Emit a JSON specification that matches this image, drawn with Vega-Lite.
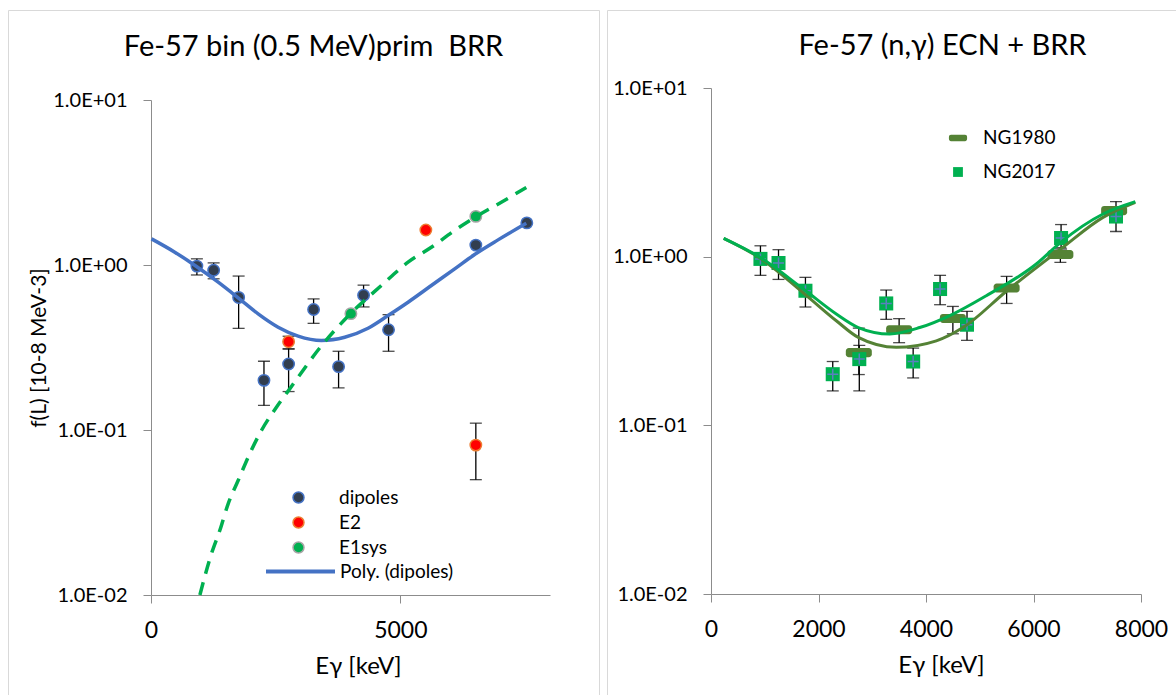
{
  "$schema": "https://vega.github.io/schema/vega-lite/v6.json",
  "background": "white",
  "padding": {"left": 7, "top": 9, "right": 0, "bottom": 0},
  "config": {
    "font": "Lato",
    "view": {"stroke": "#D9D9D9", "strokeWidth": 1},
    "axis": {"grid": false, "domainColor": "#8C8C8C", "tickColor": "#8C8C8C", "labelColor": "#000000", "titleColor": "#000000", "labelFont": "Lato", "titleFont": "Lato", "titleFontWeight": "normal", "tickSize": 8, "labelPadding": 16},
    "title": {"font": "Lato", "fontWeight": "normal", "color": "#000000", "fontSize": 29},
    "legend": {"labelFont": "Lato", "labelColor": "#000000", "labelFontSize": 19, "padding": 0},
    "concat": {"spacing": 6}
  },
  "datasets": {
    "L": [
      {"E": 920, "f": 0.985, "lo": 0.87, "hi": 1.09, "series": "dipoles"},
      {"E": 1256, "f": 0.93, "lo": 0.825, "hi": 1.03, "series": "dipoles"},
      {"E": 1757, "f": 0.636, "lo": 0.413, "hi": 0.857, "series": "dipoles"},
      {"E": 2265, "f": 0.2, "lo": 0.141, "hi": 0.261, "series": "dipoles"},
      {"E": 2759, "f": 0.251, "lo": 0.171, "hi": 0.31, "series": "dipoles"},
      {"E": 3260, "f": 0.537, "lo": 0.443, "hi": 0.623, "series": "dipoles"},
      {"E": 3761, "f": 0.242, "lo": 0.18, "hi": 0.3, "series": "dipoles"},
      {"E": 4262, "f": 0.656, "lo": 0.557, "hi": 0.755, "series": "dipoles"},
      {"E": 4763, "f": 0.405, "lo": 0.3, "hi": 0.5, "series": "dipoles"},
      {"E": 6513, "f": 1.32, "lo": null, "hi": null, "series": "dipoles"},
      {"E": 7535, "f": 1.8, "lo": null, "hi": null, "series": "dipoles"},
      {"E": 2759, "f": 0.343, "lo": 0.31, "hi": 0.37, "series": "E2"},
      {"E": 5511, "f": 1.63, "lo": null, "hi": null, "series": "E2"},
      {"E": 6513, "f": 0.081, "lo": 0.05, "hi": 0.11, "series": "E2"},
      {"E": 4008, "f": 0.507, "lo": null, "hi": null, "series": "E1sys"},
      {"E": 6513, "f": 1.97, "lo": null, "hi": null, "series": "E1sys"}
    ],
    "poly": [
      {"E": 10, "f": 1.44}, {"E": 477, "f": 1.196}, {"E": 912, "f": 0.98}, {"E": 1347, "f": 0.787},
      {"E": 1747, "f": 0.633}, {"E": 2148, "f": 0.506}, {"E": 2549, "f": 0.42}, {"E": 2950, "f": 0.371},
      {"E": 3417, "f": 0.349}, {"E": 3884, "f": 0.365}, {"E": 4352, "f": 0.414}, {"E": 4753, "f": 0.494},
      {"E": 5154, "f": 0.595}, {"E": 5621, "f": 0.751}, {"E": 6089, "f": 0.948}, {"E": 6489, "f": 1.158},
      {"E": 6958, "f": 1.42}, {"E": 7525, "f": 1.79}
    ],
    "e1fit": [
      {"E": 980, "f": 0.01}, {"E": 1212, "f": 0.0178}, {"E": 1379, "f": 0.0246}, {"E": 1547, "f": 0.0357},
      {"E": 1747, "f": 0.0494}, {"E": 1980, "f": 0.0718}, {"E": 2214, "f": 0.0993}, {"E": 2515, "f": 0.1375},
      {"E": 2749, "f": 0.172}, {"E": 3451, "f": 0.333}, {"E": 3998, "f": 0.506}, {"E": 4619, "f": 0.751},
      {"E": 5154, "f": 1.04}, {"E": 5621, "f": 1.28}, {"E": 6089, "f": 1.62}, {"E": 6503, "f": 1.95},
      {"E": 7024, "f": 2.4}, {"E": 7525, "f": 2.95}
    ],
    "R": [
      {"E": 2750, "f": 0.27, "lo": 0.2, "hi": 0.377, "series": "NG1980"},
      {"E": 3500, "f": 0.369, "lo": 0.309, "hi": 0.429, "series": "NG1980"},
      {"E": 4500, "f": 0.43, "lo": 0.349, "hi": 0.507, "series": "NG1980"},
      {"E": 5500, "f": 0.652, "lo": 0.528, "hi": 0.764, "series": "NG1980"},
      {"E": 6500, "f": 1.03, "lo": 0.925, "hi": 1.13, "series": "NG1980"},
      {"E": 7500, "f": 1.875, "lo": null, "hi": null, "series": "NG1980"},
      {"E": 920, "f": 0.97, "lo": 0.775, "hi": 1.16, "series": "NG2017"},
      {"E": 1256, "f": 0.917, "lo": 0.733, "hi": 1.1, "series": "NG2017"},
      {"E": 1757, "f": 0.628, "lo": 0.503, "hi": 0.754, "series": "NG2017"},
      {"E": 2265, "f": 0.201, "lo": 0.16, "hi": 0.239, "series": "NG2017"},
      {"E": 2759, "f": 0.247, "lo": 0.16, "hi": 0.298, "series": "NG2017"},
      {"E": 3260, "f": 0.528, "lo": 0.425, "hi": 0.634, "series": "NG2017"},
      {"E": 3761, "f": 0.239, "lo": 0.191, "hi": 0.287, "series": "NG2017"},
      {"E": 4262, "f": 0.643, "lo": 0.519, "hi": 0.775, "series": "NG2017"},
      {"E": 4763, "f": 0.395, "lo": 0.319, "hi": 0.474, "series": "NG2017"},
      {"E": 6513, "f": 1.29, "lo": 1.11, "hi": 1.55, "series": "NG2017"},
      {"E": 7535, "f": 1.73, "lo": 1.41, "hi": 2.12, "series": "NG2017"}
    ],
    "fit2017": [
      {"E": 236, "f": 1.285}, {"E": 893, "f": 1.0}, {"E": 1743, "f": 0.634}, {"E": 2331, "f": 0.457},
      {"E": 2740, "f": 0.38}, {"E": 3325, "f": 0.348}, {"E": 3883, "f": 0.38}, {"E": 4502, "f": 0.457},
      {"E": 5122, "f": 0.587}, {"E": 6052, "f": 0.905}, {"E": 6506, "f": 1.216}, {"E": 7293, "f": 1.79},
      {"E": 7894, "f": 2.12}
    ],
    "fit1980": [
      {"E": 236, "f": 1.285}, {"E": 893, "f": 0.99}, {"E": 1743, "f": 0.6}, {"E": 2331, "f": 0.417},
      {"E": 2740, "f": 0.332}, {"E": 3447, "f": 0.29}, {"E": 4192, "f": 0.317}, {"E": 4688, "f": 0.38},
      {"E": 5507, "f": 0.628}, {"E": 6506, "f": 1.11}, {"E": 7293, "f": 1.71}, {"E": 7894, "f": 2.1}
    ]
  },
  "hconcat": [
    {
      "width": 591,
      "height": 685,
      "title": {"text": "Fe-57 bin (0.5 MeV)prim\u00a0 BRR", "anchor": "middle", "frame": "group", "offset": -52, "dx": 10},
      "layer": [
        {
          "data": {"name": "L"},
          "transform": [{"filter": "datum.lo != null"}],
          "mark": {"type": "rule", "color": "#000000", "strokeWidth": 1.3},
          "encoding": {
            "x": {"field": "E", "type": "quantitative", "scale": {"domain": [0, 8000], "range": [143, 542]},
              "axis": {"values": [0, 5000], "format": "d", "labelFlush": false, "labelFontSize": 23, "offset": -100, "title": "Eγ [keV]", "titleFontSize": 24, "titleX": 350, "titleY": 71, "titleBaseline": "middle"}},
            "y": {"field": "lo", "type": "quantitative", "scale": {"type": "log", "domain": [0.01, 10], "range": [585, 90]},
              "axis": {"values": [0.01, 0.1, 1, 10], "labelFontSize": 20, "offset": -143, "title": "f(L) [10-8 MeV-3]", "titleFontSize": 21, "titleX": -112, "titleBaseline": "middle",
                "labelExpr": "datum.value >= 5 ? '1.0E+01' : datum.value >= 0.5 ? '1.0E+00' : datum.value >= 0.05 ? '1.0E-01' : '1.0E-02'"}},
            "y2": {"field": "hi"}
          }
        },
        {
          "data": {"name": "L"},
          "transform": [{"filter": "datum.lo != null"}],
          "mark": {"type": "tick", "orient": "horizontal", "color": "#000000", "size": 12, "thickness": 1.3},
          "encoding": {
            "x": {"field": "E", "type": "quantitative", "scale": {"domain": [0, 8000], "range": [143, 542]}},
            "y": {"field": "lo", "type": "quantitative", "scale": {"type": "log", "domain": [0.01, 10], "range": [585, 90]}}
          }
        },
        {
          "data": {"name": "L"},
          "transform": [{"filter": "datum.lo != null"}],
          "mark": {"type": "tick", "orient": "horizontal", "color": "#000000", "size": 12, "thickness": 1.3},
          "encoding": {
            "x": {"field": "E", "type": "quantitative", "scale": {"domain": [0, 8000], "range": [143, 542]}},
            "y": {"field": "hi", "type": "quantitative", "scale": {"type": "log", "domain": [0.01, 10], "range": [585, 90]}}
          }
        },
        {
          "data": {"name": "L"},
          "mark": {"type": "point", "filled": true, "size": 130, "strokeWidth": 1.5, "opacity": 1},
          "encoding": {
            "x": {"field": "E", "type": "quantitative", "scale": {"domain": [0, 8000], "range": [143, 542]}},
            "y": {"field": "f", "type": "quantitative", "scale": {"type": "log", "domain": [0.01, 10], "range": [585, 90]}},
            "fill": {"field": "series", "type": "nominal", "scale": {"domain": ["dipoles", "E2", "E1sys"], "range": ["#323E4F", "#FF0000", "#00B050"]},
              "legend": {"orient": "none", "legendX": 281, "legendY": 478, "title": null, "symbolSize": 120, "labelOffset": 31, "rowPadding": 5, "symbolStrokeWidth": 1.5}},
            "stroke": {"field": "series", "type": "nominal", "scale": {"domain": ["dipoles", "E2", "E1sys"], "range": ["#4472C4", "#ED7D31", "#A5A5A5"]},
              "legend": {"orient": "none", "legendX": 281, "legendY": 478, "title": null, "symbolSize": 120, "labelOffset": 31, "rowPadding": 5, "symbolStrokeWidth": 1.5}}
          }
        },
        {
          "data": {"name": "poly"},
          "mark": {"type": "line", "strokeWidth": 3.5, "interpolate": "monotone"},
          "encoding": {
            "x": {"field": "E", "type": "quantitative", "scale": {"domain": [0, 8000], "range": [143, 542]}},
            "y": {"field": "f", "type": "quantitative", "scale": {"type": "log", "domain": [0.01, 10], "range": [585, 90]}},
            "color": {"datum": "Poly. (dipoles)", "type": "nominal", "scale": {"range": ["#4472C4"]},
              "legend": {"orient": "none", "legendX": 256, "legendY": 525, "title": null, "symbolType": "stroke", "symbolSize": 4761, "symbolStrokeWidth": 4, "labelOffset": 3}}
          }
        },
        {
          "data": {"name": "e1fit"},
          "mark": {"type": "line", "strokeWidth": 3.5, "interpolate": "monotone", "color": "#00B050", "strokeDash": [13, 9]},
          "encoding": {
            "x": {"field": "E", "type": "quantitative", "scale": {"domain": [0, 8000], "range": [143, 542]}},
            "y": {"field": "f", "type": "quantitative", "scale": {"type": "log", "domain": [0.01, 10], "range": [585, 90]}}
          }
        }
      ]
    },
    {
      "width": 571,
      "height": 685,
      "title": {"text": "Fe-57 (n,γ) ECN + BRR", "anchor": "middle", "frame": "group", "offset": -51, "dx": 50},
      "layer": [
        {
          "data": {"name": "R"},
          "transform": [{"filter": "datum.lo != null"}],
          "mark": {"type": "rule", "color": "#000000", "strokeWidth": 1.3},
          "encoding": {
            "x": {"field": "E", "type": "quantitative", "scale": {"domain": [0, 8000], "range": [104, 534]},
              "axis": {"values": [0, 2000, 4000, 6000, 8000], "format": "d", "labelFlush": false, "labelFontSize": 23, "offset": -101, "title": "Eγ [keV]", "titleFontSize": 24, "titleX": 334, "titleY": 71, "titleBaseline": "middle"}},
            "y": {"field": "lo", "type": "quantitative", "scale": {"type": "log", "domain": [0.01, 10], "range": [584, 78]},
              "axis": {"values": [0.01, 0.1, 1, 10], "labelFontSize": 20, "offset": -104, "title": null,
                "labelExpr": "datum.value >= 5 ? '1.0E+01' : datum.value >= 0.5 ? '1.0E+00' : datum.value >= 0.05 ? '1.0E-01' : '1.0E-02'"}},
            "y2": {"field": "hi"}
          }
        },
        {
          "data": {"name": "R"},
          "transform": [{"filter": "datum.lo != null"}],
          "mark": {"type": "tick", "orient": "horizontal", "color": "#000000", "size": 12, "thickness": 1.3},
          "encoding": {
            "x": {"field": "E", "type": "quantitative", "scale": {"domain": [0, 8000], "range": [104, 534]}},
            "y": {"field": "lo", "type": "quantitative", "scale": {"type": "log", "domain": [0.01, 10], "range": [584, 78]}}
          }
        },
        {
          "data": {"name": "R"},
          "transform": [{"filter": "datum.lo != null"}],
          "mark": {"type": "tick", "orient": "horizontal", "color": "#000000", "size": 12, "thickness": 1.3},
          "encoding": {
            "x": {"field": "E", "type": "quantitative", "scale": {"domain": [0, 8000], "range": [104, 534]}},
            "y": {"field": "hi", "type": "quantitative", "scale": {"type": "log", "domain": [0.01, 10], "range": [584, 78]}}
          }
        },
        {
          "data": {"name": "R"},
          "mark": {"type": "point", "filled": true, "size": 676, "strokeWidth": 0, "opacity": 1},
          "encoding": {
            "x": {"field": "E", "type": "quantitative", "scale": {"domain": [0, 8000], "range": [104, 534]}},
            "y": {"field": "f", "type": "quantitative", "scale": {"type": "log", "domain": [0.01, 10], "range": [584, 78]}},
            "color": {"field": "series", "type": "nominal", "scale": {"domain": ["NG1980", "NG2017"], "range": ["#548235", "#00B050"]},
              "legend": {"orient": "none", "legendX": 341, "legendY": 118, "title": null, "symbolSize": 330, "labelOffset": 15, "rowPadding": 14}},
            "shape": {"field": "series", "type": "nominal", "scale": {"domain": ["NG1980", "NG2017"], "range": ["M-0.77,-0.35H0.77A0.23,0.23 0 0 1 1,-0.12V0.12A0.23,0.23 0 0 1 0.77,0.35H-0.77A0.23,0.23 0 0 1 -1,0.12V-0.12A0.23,0.23 0 0 1 -0.77,-0.35Z", "M-0.54,-0.54H0.54V0.54H-0.54Z"]},
              "legend": {"orient": "none", "legendX": 341, "legendY": 118, "title": null, "symbolSize": 330, "labelOffset": 15, "rowPadding": 14}}
          }
        },
        {
          "data": {"name": "R"},
          "transform": [{"filter": "datum.series == 'NG2017'"}],
          "mark": {"type": "point", "filled": false, "size": 121, "shape": "M-1,0H1M0,-1V1", "stroke": "#5B7FBF", "strokeWidth": 1.5, "opacity": 1},
          "encoding": {
            "x": {"field": "E", "type": "quantitative", "scale": {"domain": [0, 8000], "range": [104, 534]}},
            "y": {"field": "f", "type": "quantitative", "scale": {"type": "log", "domain": [0.01, 10], "range": [584, 78]}}
          }
        },
        {
          "data": {"name": "fit1980"},
          "mark": {"type": "line", "strokeWidth": 3, "interpolate": "monotone", "color": "#548235"},
          "encoding": {
            "x": {"field": "E", "type": "quantitative", "scale": {"domain": [0, 8000], "range": [104, 534]}},
            "y": {"field": "f", "type": "quantitative", "scale": {"type": "log", "domain": [0.01, 10], "range": [584, 78]}}
          }
        },
        {
          "data": {"name": "fit2017"},
          "mark": {"type": "line", "strokeWidth": 3, "interpolate": "monotone", "color": "#00B050"},
          "encoding": {
            "x": {"field": "E", "type": "quantitative", "scale": {"domain": [0, 8000], "range": [104, 534]}},
            "y": {"field": "f", "type": "quantitative", "scale": {"type": "log", "domain": [0.01, 10], "range": [584, 78]}}
          }
        }
      ]
    }
  ],
  "resolve": {
    "scale": {"x": "independent", "y": "independent", "color": "independent", "fill": "independent", "stroke": "independent", "shape": "independent"},
    "axis": {"x": "independent", "y": "independent"},
    "legend": {"color": "independent", "fill": "independent", "stroke": "independent", "shape": "independent"}
  }
}
